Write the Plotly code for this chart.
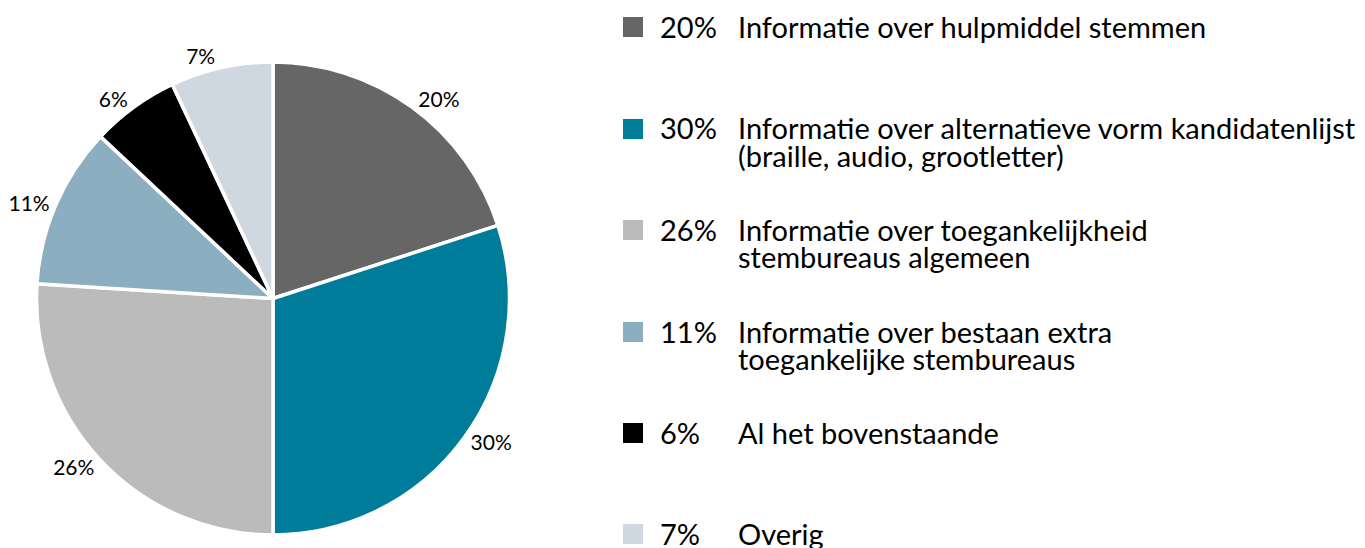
import plotly.graph_objects as go

categories = [
    "Informatie over hulpmiddel stemmen",
    "Informatie over alternatieve vorm kandidatenlijst\n(braille, audio, grootletter)",
    "Informatie over toegankelijkheid\nstembureaus algemeen",
    "Informatie over bestaan extra\ntoegankelijke stembureaus",
    "Al het bovenstaande",
    "Overig",
]
values = [20, 30, 26, 11, 6, 7]
colors = ["#666666", "#007C9B", "#BBBBBB", "#8BAFC1", "#000000", "#CFD8E0"]

W, H = 1365, 548
FONT = "Lato"
LEG_SIZE = 29

fig = go.Figure()
fig.add_trace(go.Pie(
    values=values,
    labels=[c.replace("\n", " ") for c in categories],
    marker=dict(colors=colors, line=dict(color="white", width=3.5)),
    sort=False,
    direction="clockwise",
    rotation=0,
    textposition="outside",
    texttemplate="%{value}%",
    textfont=dict(family=FONT, size=21, color="#000000"),
    domain=dict(x=[36 / W, 510 / W], y=[1 - 535 / H, 1 - 62 / H]),
    showlegend=False,
    hoverinfo="label+value",
))

# manual legend
row_y = [27, 129, 230, 332, 433, 534]
line_gap = 27
annotations = []
shapes = []
for i, (cat, val, col) in enumerate(zip(categories, values, colors)):
    yc = row_y[i]
    shapes.append(dict(type="rect", xref="paper", yref="paper",
                       x0=623 / W, x1=643 / W,
                       y0=1 - (yc + 10) / H, y1=1 - (yc - 10) / H,
                       fillcolor=col, line=dict(width=0)))
    annotations.append(dict(x=658 / W, y=1 - (yc - 1) / H, xref="paper", yref="paper",
                            text=f"{val}%", showarrow=False, xanchor="left", yanchor="middle",
                            font=dict(family=FONT, size=LEG_SIZE, color="#000000")))
    for j, line in enumerate(cat.split("\n")):
        annotations.append(dict(x=736 / W, y=1 - (yc - 1 + j * line_gap) / H,
                                xref="paper", yref="paper",
                                text=line, showarrow=False, xanchor="left", yanchor="middle",
                                font=dict(family=FONT, size=LEG_SIZE, color="#000000")))

fig.update_layout(
    width=W, height=H,
    margin=dict(l=0, r=0, t=0, b=0),
    paper_bgcolor="white", plot_bgcolor="white",
    annotations=annotations, shapes=shapes,
)

fig.write_html("out.html",
               config={"displayModeBar": False},
               post_script="document.body.style.margin='0';document.body.style.overflow='hidden';")
